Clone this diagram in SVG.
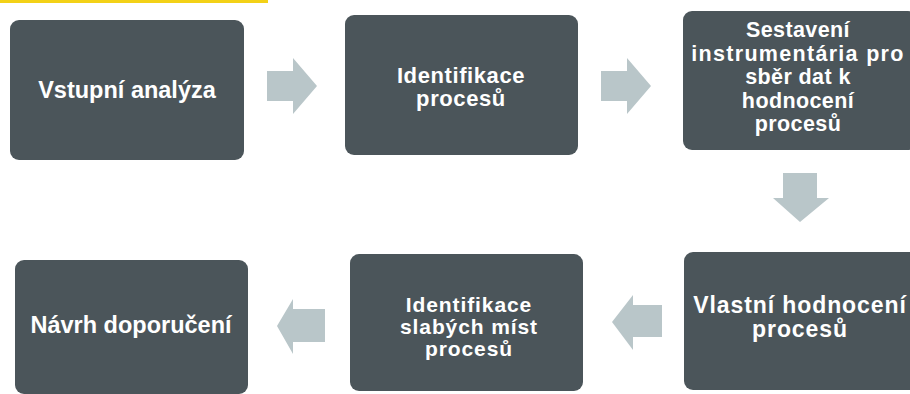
<svg xmlns="http://www.w3.org/2000/svg" width="910" height="394" viewBox="0 0 910 394">
  <defs>
    <style>
      .box { fill: #4b555a; }
      .arrow { fill: #b9c6c9; }
      .t { fill: #ffffff; font-family: "Liberation Sans", Arial, sans-serif; font-weight: bold; text-anchor: middle; }
    </style>
  </defs>
  <rect x="0" y="0" width="910" height="394" fill="#ffffff"/>
  <rect x="0" y="0" width="268" height="3" fill="#f3d117"/>

  <g id="connectors">
    <path class="arrow" d="M267,71 H293 V58 L317,86 L293,114 V101 H267 Z"/>
    <path class="arrow" d="M601,71 H627 V58 L651,86 L627,114 V101 H601 Z"/>
    <path class="arrow" d="M783,173 V198 H773 L800,222 L829,198 H817 V173 Z"/>
    <path class="arrow" d="M662,305 H633 V295 L612,322 L633,350 V337 H662 Z"/>
    <path class="arrow" d="M325,309 H293 V299 L277,326 L293,354 V342 H325 Z"/>
  </g>

  <g id="node1">
    <rect class="box" x="10" y="20" width="234" height="140" rx="9"/>
    <text class="t" x="127" y="98" font-size="23.5">Vstupní analýza</text>
  </g>
  <g id="node2">
    <rect class="box" x="345" y="15" width="233" height="140" rx="9"/>
    <text class="t" x="461" y="83" font-size="22" letter-spacing="0.6">Identifikace</text>
    <text class="t" x="461" y="106" font-size="22" letter-spacing="0.6">procesů</text>
  </g>
  <g id="node3">
    <rect class="box" x="683" y="11" width="234" height="139" rx="9"/>
    <text class="t" x="798" y="37" font-size="21.5" letter-spacing="0.4">Sestavení</text>
    <text class="t" x="798" y="60.5" font-size="21.5" letter-spacing="1.3">instrumentária pro</text>
    <text class="t" x="798" y="84" font-size="21.5" letter-spacing="0.4">sběr dat k</text>
    <text class="t" x="798" y="107.5" font-size="21.5" letter-spacing="0.4">hodnocení</text>
    <text class="t" x="798" y="131" font-size="21.5" letter-spacing="0.4">procesů</text>
  </g>
  <g id="node4">
    <rect class="box" x="684" y="252" width="234" height="138" rx="9"/>
    <text class="t" x="800" y="312.5" font-size="23" letter-spacing="0.9">Vlastní hodnocení</text>
    <text class="t" x="800" y="337" font-size="23" letter-spacing="0.9">procesů</text>
  </g>
  <g id="node5">
    <rect class="box" x="350" y="254" width="233" height="137" rx="9"/>
    <text class="t" x="469" y="312" font-size="21" letter-spacing="0.9">Identifikace</text>
    <text class="t" x="469" y="334" font-size="21" letter-spacing="0.9">slabých míst</text>
    <text class="t" x="469" y="356" font-size="21" letter-spacing="0.9">procesů</text>
  </g>
  <g id="node6">
    <rect class="box" x="15" y="260" width="233" height="134" rx="9"/>
    <text class="t" x="131" y="333" font-size="23.5">Návrh doporučení</text>
  </g>
</svg>
